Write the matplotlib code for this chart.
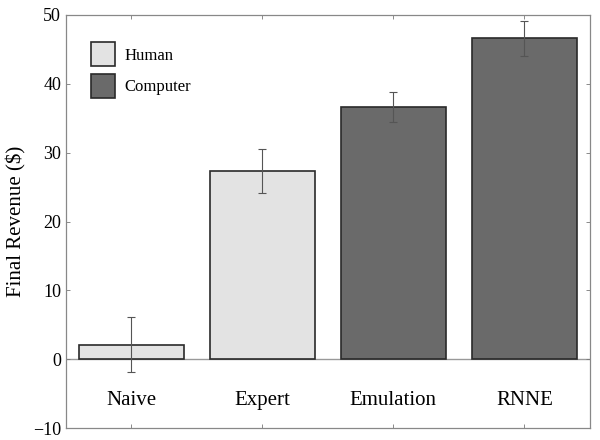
import matplotlib
matplotlib.use('Agg')
from matplotlib import pyplot as plt
from matplotlib.patches import Patch
import numpy as np

# data
categories = ['Naive', 'Expert', 'Emulation', 'RNNE']
revenue = [2.1, 27.3, 36.6, 46.6]
errors = [4.0, 3.2, 2.2, 2.5]
groups = ['Human', 'Human', 'Computer', 'Computer']
yticks = [-10, 0, 10, 20, 30, 40, 50]

colours = {'Human': '#e3e3e3', 'Computer': '#6a6a6a'}

plt.rcParams['font.family'] = ['Liberation Serif', 'DejaVu Serif']

fig = plt.figure(figsize=(6, 4.4), dpi=100)
ax = fig.add_axes([0.11, 0.027, 0.873, 0.939])

x = np.arange(1, len(categories) + 1)
ax.bar(x, revenue, width=0.8, color=[colours[g] for g in groups],
       edgecolor='#2a2a2a', linewidth=1.2, zorder=2)
ax.errorbar(x, revenue, yerr=errors, fmt='none', ecolor='#555555',
            elinewidth=0.8, capsize=3, capthick=0.8, zorder=3)
ax.axhline(0, color='#999999', linewidth=1.0, zorder=1)

# category names drawn inside the plot below zero
for xi, name in zip(x, categories):
    ax.text(xi, -6, name, ha='center', va='center', fontsize=15)

ax.set_xlim(0.5, len(categories) + 0.5)
ax.set_ylim(-10, 50)
ax.set_yticks(yticks)
ax.set_yticklabels(['\u221210' if t < 0 else str(t) for t in yticks])
ax.set_xticks(x)
ax.set_xticklabels([])
ax.tick_params(direction='in', length=3, width=0.6, colors='#777777',
               labelcolor='black', labelsize=13, top=True, right=True)
ax.set_ylabel('Final Revenue ($)', fontsize=15, labelpad=5)
for s in ax.spines.values():
    s.set_color('#888888')
    s.set_linewidth(0.9)

handles = [Patch(facecolor=colours[g], edgecolor='#2a2a2a', linewidth=1.2, label=g)
           for g in ['Human', 'Computer']]
ax.legend(handles=handles, loc='upper left', frameon=False, fontsize=12,
          handlelength=1.4, handleheight=1.8, handletextpad=0.6,
          labelspacing=0.5, bbox_to_anchor=(0.02, 0.97))

fig.savefig('out.png', dpi=100)
